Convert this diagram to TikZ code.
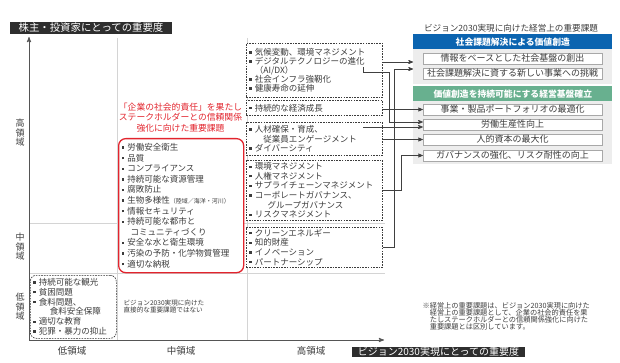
\documentclass[tikz,border=0pt]{standalone}
\usepackage{fontspec}
\setmainfont{Noto Sans CJK JP}
\usepackage{tikz}
\usetikzlibrary{arrows,positioning,calc}

\definecolor{ink}{HTML}{3C3C3C}
\definecolor{axis}{HTML}{555555}
\definecolor{grid}{HTML}{D4D4D4}
\definecolor{hdark}{HTML}{2E2E2E}
\definecolor{csr}{HTML}{E2242D}
\definecolor{vblue}{HTML}{0B64B0}
\definecolor{vgreen}{HTML}{68B08F}
\definecolor{panel}{HTML}{EDEDED}
\definecolor{sub}{HTML}{A8A8A8}

\newcommand{\bu}{\rule[0.22em]{0.26em}{0.26em}\hspace{0.4em}}
\newcommand{\fs}[2]{\fontsize{#1}{#2}\selectfont}

\begin{document}
\begin{tikzpicture}[x=1pt,y=-1pt,>=stealth',semithick,font=\fs{8.5}{9},text=ink]
  \tikzstyle{gl}=[draw=grid,line width=0.6pt]
  \tikzstyle{ax}=[->,draw=axis,line width=0.9pt]
  \tikzstyle{lst}=[draw=ink,fill=white,dash pattern=on 1.6pt off 1.1pt,line width=0.6pt,anchor=north west,align=left,inner xsep=3pt,inner ysep=0pt,text width=130pt]
  \tikzstyle{bar}=[anchor=north west,minimum width=199pt,minimum height=15pt,inner sep=0pt,text=white,font=\bfseries\fs{8.8}{9}]
  \tikzstyle{pnl}=[anchor=north west,fill=panel,minimum width=199pt,inner sep=0pt]
  \tikzstyle{sb}=[draw=sub,fill=white,line width=0.5pt,minimum width=179pt,minimum height=11pt,inner sep=0pt,font=\fs{9}{9}]
  \tikzstyle{link}=[->,draw=black!75,line width=0.7pt]
  \tikzstyle{ttl}=[fill=hdark,text=white,inner sep=0pt]
\useasboundingbox (0,0) rectangle (620,363);

% grid and axes
\draw[gl] (117,38) -- (117,340);
\draw[gl] (247,38) -- (247,340);
\draw[gl] (29,223) -- (385,223);
\draw[gl] (29,273) -- (385,273);
\coordinate (o) at (29,340);
\draw[ax] (o) -- (29,37);
\draw[ax] (o) -- (384,340);

\node[ttl,font=\fs{10.4}{11},minimum width=162pt,minimum height=12pt] (ty) at (91,28) {株主・投資家にとっての重要度};
\node[ttl,font=\fs{10}{10},minimum width=173pt,minimum height=10.5pt] (tx) at (438.5,352) {ビジョン2030実現にとっての重要度};

\node[align=center,font=\fs{9}{9.5}] (h1) at (20,133) {高\\領\\域};
\node[align=center,font=\fs{9}{9.5}] (h2) at (20,247) {中\\領\\域};
\node[align=center,font=\fs{9}{9.5}] (h3) at (20,307) {低\\領\\域};
\node[font=\fs{9.5}{10}] (w1) at (72,351) {低領域};
\node[font=\fs{9.5}{10}] (w2) at (181,351) {中領域};
\node[font=\fs{9.5}{10}] (w3) at (311,351) {高領域};

% middle column
\node[align=center,text=csr,font=\fs{8.8}{10.5}] (rh) at (180.5,117.5) {「企業の社会的責任」を果たし\\ステークホルダーとの信頼関係\\強化に向けた重要課題};
\node[draw=csr,fill=white,line width=1.3pt,rounded corners=7pt,anchor=north west,align=left,inner xsep=3pt,inner ysep=0pt,text width=119pt,minimum height=134pt,font=\fs{8.5}{10.6}] (r) at (118,138) {\bu 労働安全衛生\\\bu 品質\\\bu コンプライアンス\\\bu 持続可能な資源管理\\\bu 腐敗防止\\\bu 生物多様性{\fs{6}{6}（陸域／海洋・河川）}\\\bu 情報セキュリティ\\\bu 持続可能な都市と\\\phantom{\bu}\hspace*{0.4em}コミュニティづくり\\\bu 安全な水と衛生環境\\\bu 汚染の予防・化学物質管理\\\bu 適切な納税};
\node[anchor=west,align=left,font=\fs{6.6}{7.5}] (sn) at (120,306.5) {ビジョン2030実現に向けた\\直接的な重要課題ではない};

% left column
\node[lst,draw=black!85,rounded corners=6pt,text width=80pt,minimum height=63pt,font=\fs{8.5}{9.8}] (l) at (30,275) {\bu 持続可能な観光\\\bu 貧困問題\\\bu 食料問題、\\\phantom{\bu}\hspace*{1.3em}食料安全保障\\\bu 適切な教育\\\bu 犯罪・暴力の抑止};

% right column
\node[lst,minimum height=54pt] (a) at (246,43) {\bu 気候変動、環境マネジメント\\\bu デジタルテクノロジーの進化\\\phantom{\bu}（AI/DX）\\\bu 社会インフラ強靭化\\\bu 健康寿命の延伸};
\node[lst,minimum height=15pt] (b) at (246,100) {\bu 持続的な経済成長};
\node[lst,minimum height=33pt,font=\fs{8.5}{9.5}] (e) at (246,122) {\bu 人材確保・育成、\\\phantom{\bu}\hspace*{1em}従業員エンゲージメント\\\bu ダイバーシティ};
\node[lst,minimum height=60pt,font=\fs{8.5}{9.6}] (c) at (246,160) {\bu 環境マネジメント\\\bu 人権マネジメント\\\bu サプライチェーンマネジメント\\\bu コーポレートガバナンス、\\\phantom{\bu}\hspace*{1.5em}グループガバナンス\\\bu リスクマネジメント};
\node[lst,minimum height=40pt,font=\fs{8.5}{9.6}] (d) at (246,227) {\bu クリーンエネルギー\\\bu 知的財産\\\bu イノベーション\\\bu パートナーシップ};

% issues of Vision 2030
\node[font=\fs{8.6}{9}] (hd) at (511,28) {ビジョン2030実現に向けた経営上の重要課題};
\node[bar,fill=vblue] (b1) at (413,34) {社会課題解決による価値創造};
\node[pnl,minimum height=35pt] (p1) at (413,49) {};
\node[bar,fill=vgreen] (b2) at (413,86) {価値創造を持続可能にする経営基盤確立};
\node[pnl,minimum height=63pt] (p2) at (413,101) {};
\node[sb] (s1) at (512.5,58.5) {情報をベースとした社会基盤の創出};
\node[sb] (s2) [below of=s1,node distance=15pt] {社会課題解決に資する新しい事業への挑戦};
\node[sb] (t1) at (512.5,109.5) {事業・製品ポートフォリオの最適化};
\node[sb] (t2) [below of=t1,node distance=15pt] {労働生産性向上};
\node[sb] (t3) [below of=t2,node distance=15pt] {人的資本の最大化};
\node[sb] (t4) [below of=t3,node distance=16pt] {ガバナンスの強化、リスク耐性の向上};

\node[anchor=north west,align=left,font=\fs{7.2}{7.1}] (nt) at (419,298.5) {※経営上の重要課題は、ビジョン2030実現に向けた\\\hspace*{1em}経営上の重要課題として、企業の社会的責任を果\\\hspace*{1em}たしステークホルダーとの信頼関係強化に向けた\\\hspace*{1em}重要課題とは区別しています。};

% connectors
\coordinate (dx) at (363,67);
\coordinate (hr) at (363,127);
\draw[link] (a.east |- 0,62) -- (p1.west |- 0,62);
\draw[link] (dx) |- (389,72) |- ([yshift=2.5pt]t2.west);
\draw[link] (d.east) -| (394,69) -- (p1.west |- 0,69);
\draw[link] (b.east |- t1.west) -- (t1.west);
\draw[link] (hr) -- (hr -| t2.west);
\draw[link] (e.east |- t3.west) -- (t3.west);
\draw[link] (c.east) -| ([xshift=-21pt]t4.west) -- (t4.west);
\end{tikzpicture}
\end{document}
